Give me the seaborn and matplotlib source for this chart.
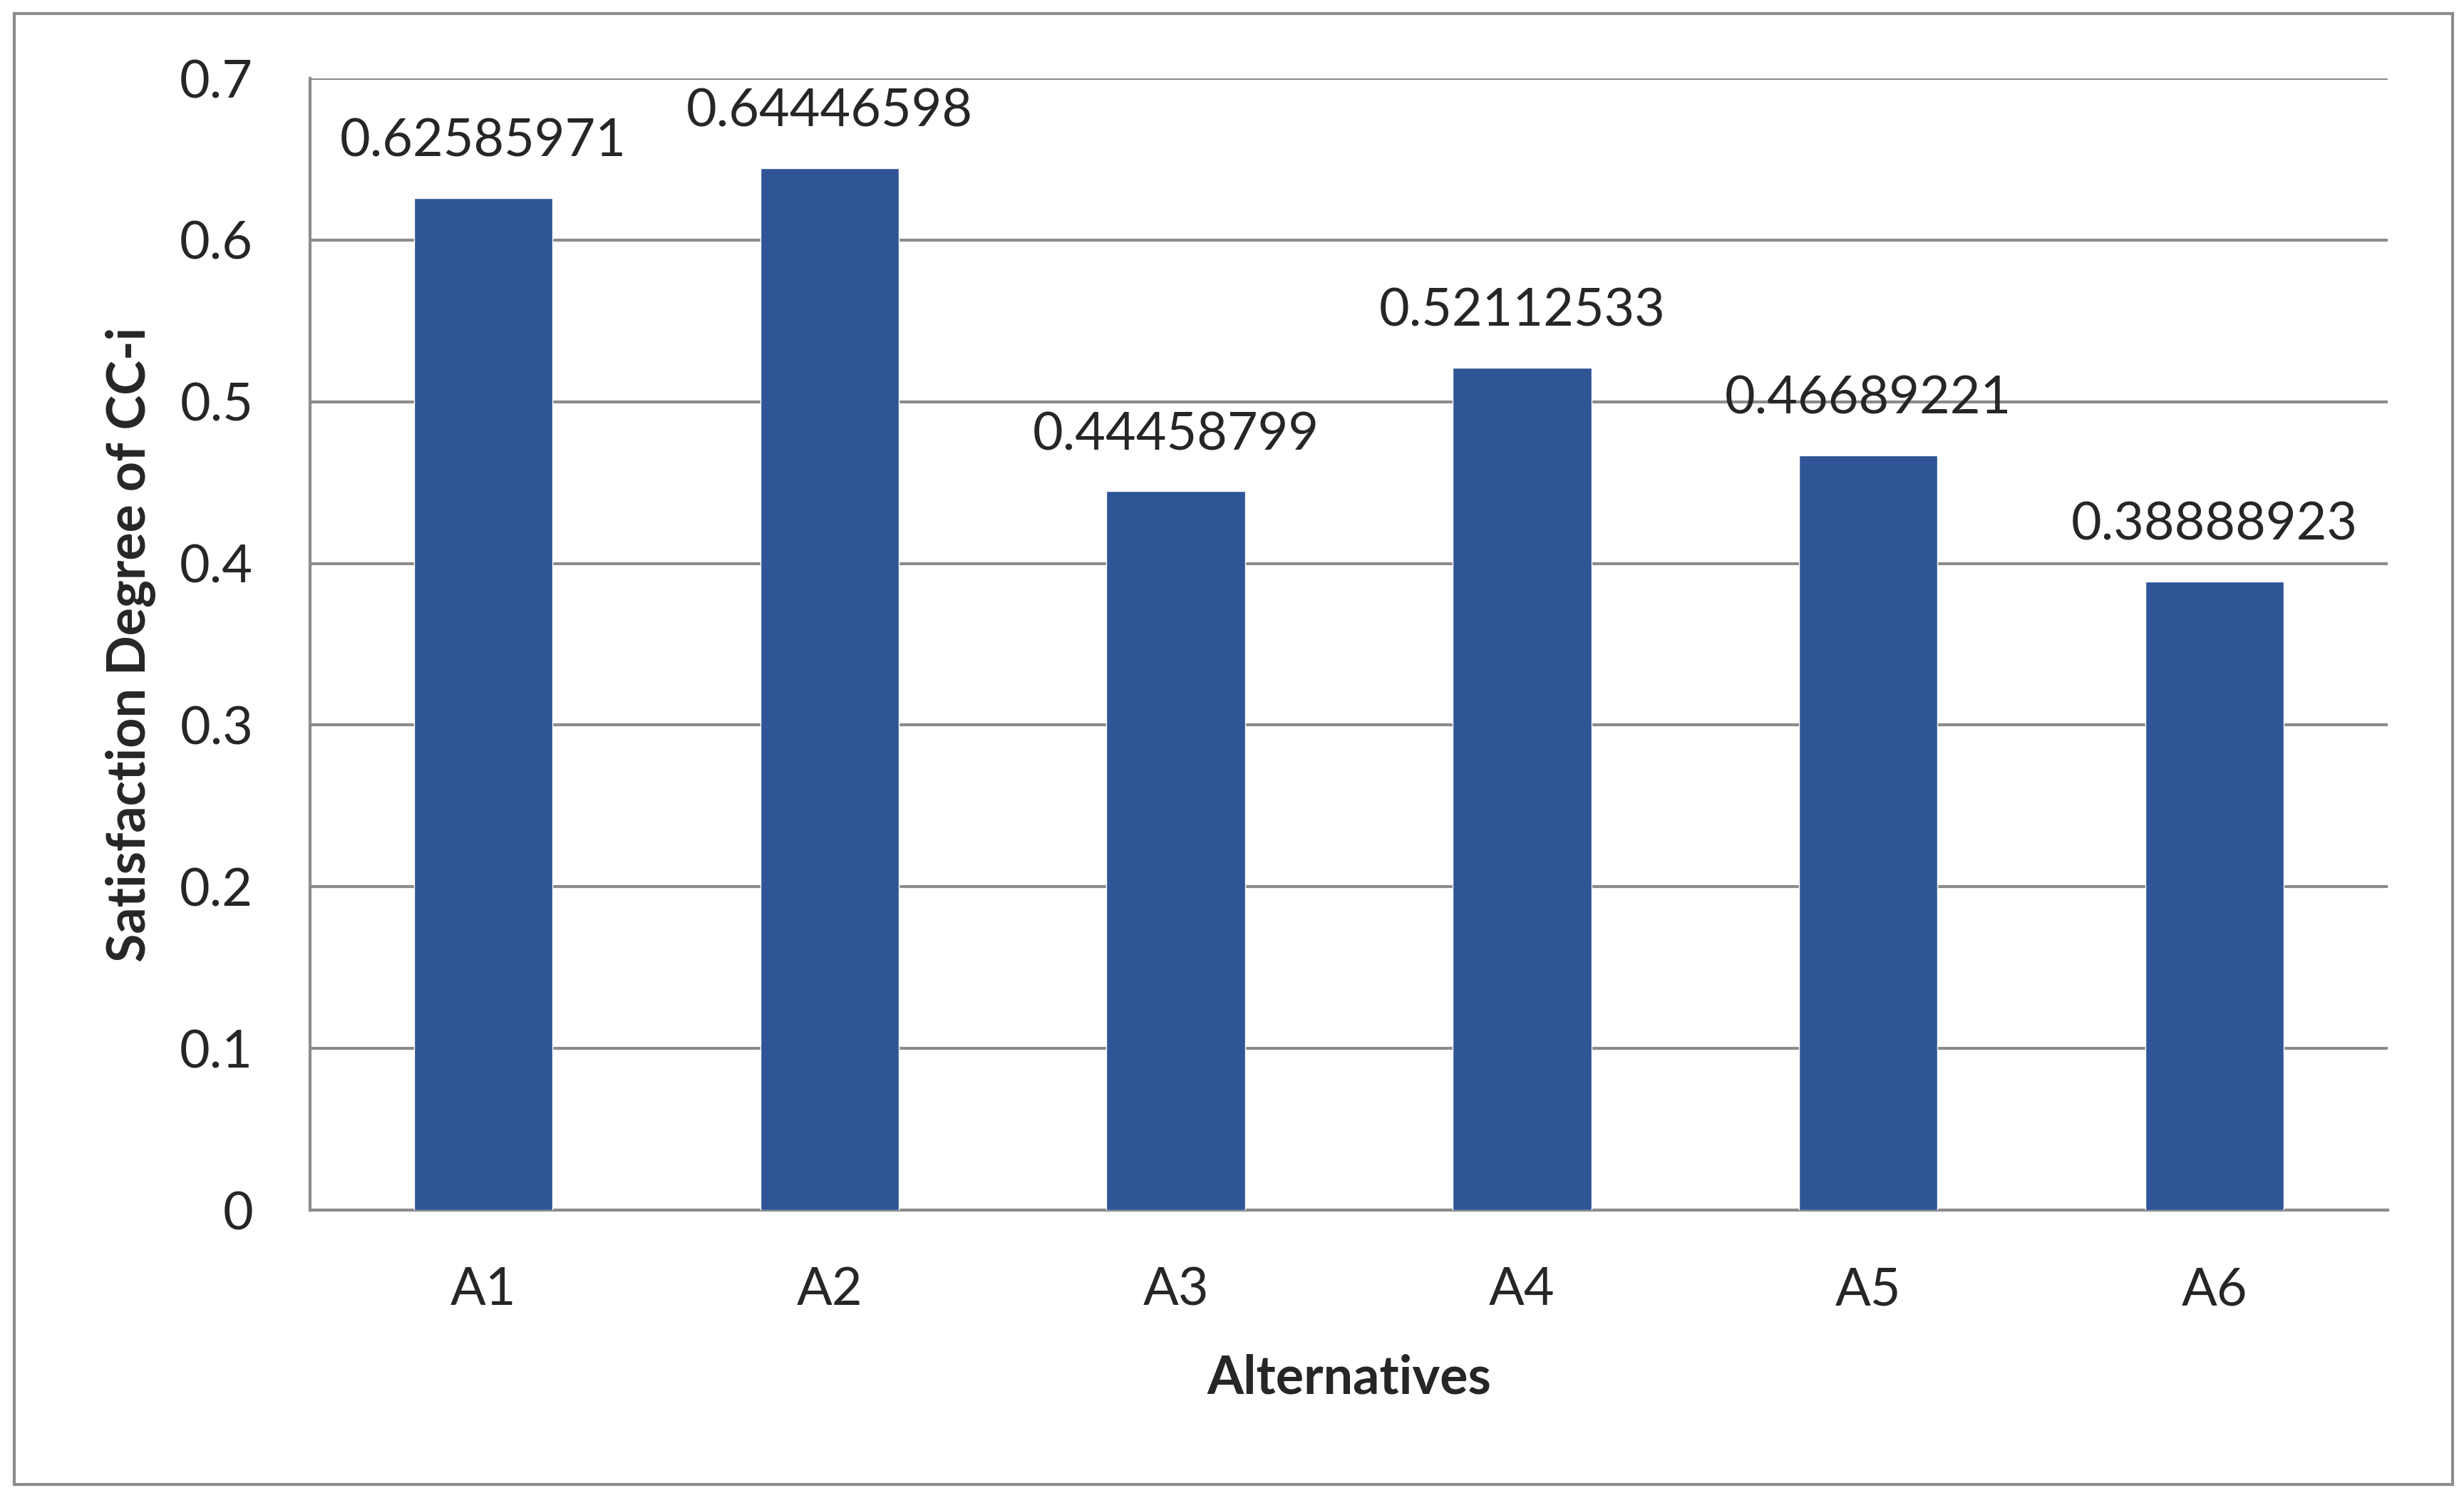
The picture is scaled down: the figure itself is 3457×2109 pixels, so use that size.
import numpy as np
import pandas as pd
import seaborn as sns
import matplotlib.pyplot as plt
from matplotlib.patches import Rectangle

alternatives = ['A1', 'A2', 'A3', 'A4', 'A5', 'A6']
cc_values = [0.62585971, 0.64446598, 0.44458799, 0.52112533, 0.46689221, 0.38888923]
value_labels = ['0.62585971', '0.64446598', '0.44458799', '0.52112533', '0.46689221', '0.38888923']
y_ticks = [0, 0.1, 0.2, 0.3, 0.4, 0.5, 0.6, 0.7]
y_tick_labels = ['0', '0.1', '0.2', '0.3', '0.4', '0.5', '0.6', '0.7']

df = pd.DataFrame({'Alternatives': alternatives, 'CC': cc_values})

sns.set_style('white')
plt.rcParams['font.family'] = ['Lato', 'DejaVu Sans']

grey = '#8c8c8c'
lw = 3.0
W, H = 3457, 2109
fig = plt.figure(figsize=(W / 100, H / 100), dpi=100)
ax = fig.add_axes([435 / W, 1 - 1698 / H, (3350 - 435) / W, (1698 - 110) / H])

sns.barplot(data=df, x='Alternatives', y='CC', color='#2F5597', width=0.4,
            saturation=1, ax=ax, zorder=3)

ax.set_ylim(0, 0.7)
ax.set_xlim(-0.5, 5.5)
ax.set_yticks(y_ticks)
ax.set_yticklabels(y_tick_labels)
ax.yaxis.grid(True, color=grey, linewidth=lw, zorder=0)
ax.set_axisbelow(True)

# category ticks sit on the boundaries between bars
ax.set_xticks(np.arange(len(alternatives)))
ax.set_xticklabels(alternatives)
ax.set_xticks(np.arange(-0.5, len(alternatives)), minor=True)
ax.tick_params(axis='x', which='major', length=0, pad=57, labelsize=53)
ax.tick_params(axis='x', which='minor', length=19.5, width=lw, color=grey, direction='out')
ax.tick_params(axis='y', length=20, width=lw, color=grey, direction='out', pad=37.5, labelsize=53)

for s in ['top', 'right']:
    ax.spines[s].set_visible(False)
for s in ['left', 'bottom']:
    ax.spines[s].set_color(grey)
    ax.spines[s].set_linewidth(lw)

for i, (v, lab) in enumerate(zip(cc_values, value_labels)):
    ax.annotate(lab, (i, v), xytext=(0, 42), textcoords='offset points',
                ha='center', va='baseline', fontsize=53)

ax.set_xlabel('Alternatives', fontsize=53, fontweight='bold', labelpad=40)
ax.set_ylabel('Satisfaction Degree of CC-i', fontsize=53, fontweight='bold')
ax.yaxis.set_label_coords((219 - 435) / (3350 - 435), 0.5)

# outer chart border
fig.patches.append(Rectangle((20 / W, 1 - 2083 / H), (3441 - 20) / W, (2083 - 19) / H,
                             transform=fig.transFigure, fill=False, edgecolor=grey, linewidth=lw))

fig.savefig('out.png', dpi=100)
